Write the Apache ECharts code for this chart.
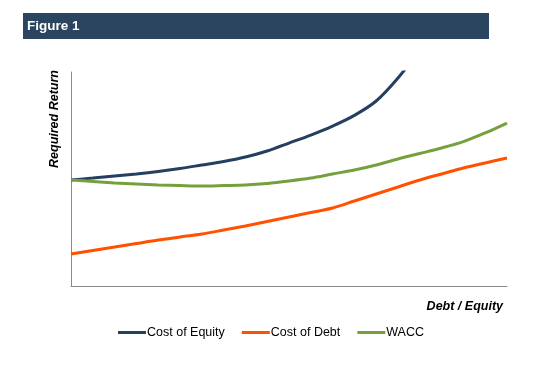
<!DOCTYPE html>
<html>
<head>
<meta charset="utf-8">
<style>html,body{margin:0;padding:0;background:#fff}#c{width:556px;height:365px}</style>
<script src="https://cdn.jsdelivr.net/npm/echarts@6/dist/echarts.min.js"></script>
</head>
<body>
<div id="c"></div>
<script>
// Debt / Equity (relative scale 0..100)
const debtEquity = [0, 5, 10, 15, 20, 25, 30, 35, 40, 45, 50, 55, 60, 65, 70, 75, 80, 85, 90, 95, 100];
const costOfEquity = [9.91, 10.09, 10.28, 10.47, 10.70, 10.98, 11.31, 11.64, 12.06, 12.62, 13.36, 14.11, 14.95, 15.95, 17.29, 19.44, 22.06];
const costOfDebt = [2.99, 3.32, 3.64, 3.97, 4.30, 4.58, 4.86, 5.23, 5.61, 6.03, 6.45, 6.87, 7.29, 7.94, 8.60, 9.25, 9.91, 10.47, 11.03, 11.50, 11.96];
const wacc = [9.91, 9.77, 9.63, 9.53, 9.44, 9.39, 9.35, 9.39, 9.44, 9.58, 9.81, 10.09, 10.47, 10.84, 11.31, 11.87, 12.38, 12.90, 13.50, 14.30, 15.23];
const seriesNames = ['Cost of Equity', 'Cost of Debt', 'WACC'];
const colors = ['#243F60', '#FF5200', '#76A03C'];

function pairs(vals) {
  return vals.map((v, i) => [debtEquity[i], v]);
}
const allData = [costOfEquity, costOfDebt, wacc];

const chart = echarts.init(document.getElementById('c'), null, {renderer: 'canvas'});
const font = 'Liberation Sans, Arial, sans-serif';
chart.setOption({
  animation: false,
  textStyle: {fontFamily: font},
  grid: {left: 71, top: 72, right: 49, bottom: 79, containLabel: false},
  xAxis: {
    type: 'value', min: 0, max: 100,
    axisLine: {show: true, lineStyle: {color: '#8a8a8a', width: 1}},
    axisTick: {show: false}, axisLabel: {show: false}, splitLine: {show: false}
  },
  yAxis: {
    type: 'value', min: 0, max: 20,
    axisLine: {show: true, lineStyle: {color: '#8a8a8a', width: 1}},
    axisTick: {show: false}, axisLabel: {show: false}, splitLine: {show: false}
  },
  legend: {
    left: 113, top: 321, itemWidth: 28, itemHeight: 3, itemGap: 17, icon: 'rect',
    textStyle: {fontFamily: font, fontSize: 12.5, color: '#000', padding: [0, 0, 0, -4]},
    data: seriesNames
  },
  series: allData.map((d, i) => ({
    name: seriesNames[i], type: 'line', smooth: 0.3, symbol: 'none',
    data: pairs(d), clip: true,
    lineStyle: {color: colors[i], width: 3}, itemStyle: {color: colors[i]}
  })),
  graphic: [
    {type: 'rect', left: 23, top: 13, shape: {width: 466, height: 26}, style: {fill: '#2B4560'}},
    {type: 'text', x: 27, y: 26, style: {text: 'Figure 1', fill: '#fff', font: 'bold 13.5px ' + font, verticalAlign: 'middle'}},
    {type: 'text', x: 55, y: 119, rotation: Math.PI / 2,
     style: {text: 'Required Return', fill: '#000', font: 'italic bold 12.5px ' + font, align: 'center', verticalAlign: 'middle'}},
    {type: 'text', x: 503, y: 307,
     style: {text: 'Debt / Equity', fill: '#000', font: 'italic bold 12.5px ' + font, align: 'right', verticalAlign: 'middle'}}
  ]
});
</script>
</body>
</html>
